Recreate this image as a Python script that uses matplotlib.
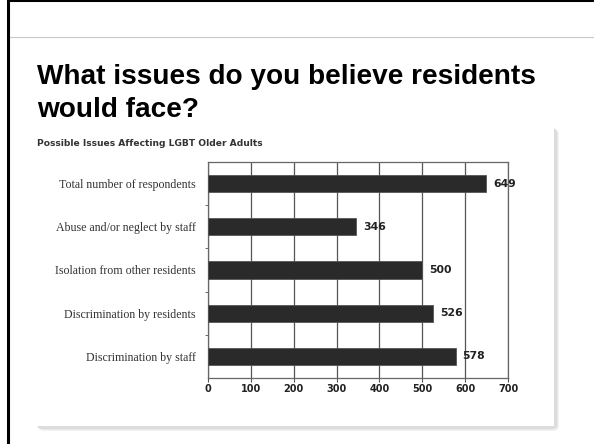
import matplotlib.pyplot as plt
from matplotlib.patches import Rectangle, FancyBboxPatch

# data
categories = [
    "Total number of respondents",
    "Abuse and/or neglect by staff",
    "Isolation from other residents",
    "Discrimination by residents",
    "Discrimination by staff",
]
counts = [649, 346, 500, 526, 578]
x_ticks = [0, 100, 200, 300, 400, 500, 600, 700]

W, H = 594, 444
fig = plt.figure(figsize=(W / 100, H / 100), dpi=100)


def fx(x):
    return x / W


def fy(y):
    return 1 - y / H


# slide frame and header rule
fig.add_artist(Rectangle((fx(8), fy(470)), fx(620), 470 / H, transform=fig.transFigure,
                         fill=False, edgecolor="black", linewidth=2.2, zorder=-1))
fig.add_artist(plt.Line2D([fx(10), 1], [fy(37), fy(37)], transform=fig.transFigure,
                          color="#c8c8c8", linewidth=0.8, zorder=-1))

# chart panel with soft shadow
for i, c in enumerate(["#f4f4f4", "#e8e8e8", "#dcdcdc"]):
    d = 3 - i
    fig.add_artist(FancyBboxPatch((fx(36 + d), fy(428 + d)), fx(520), (428 - 127) / H,
                                  boxstyle="round,pad=0,rounding_size=0.01",
                                  transform=fig.transFigure, facecolor=c,
                                  edgecolor="none", zorder=-1))
fig.add_artist(Rectangle((fx(36), fy(426)), fx(518), (426 - 120) / H,
                         transform=fig.transFigure, facecolor="white", edgecolor="none",
                         zorder=-1))

# titles
fig.text(fx(37), fy(84), "What issues do you believe residents", fontsize=20.2,
         fontweight="bold", family="Liberation Sans", color="black", va="baseline")
fig.text(fx(37), fy(117), "would face?", fontsize=20.2,
         fontweight="bold", family="Liberation Sans", color="black", va="baseline")
fig.text(fx(37), fy(146), "Possible Issues Affecting LGBT Older Adults", fontsize=6.6,
         fontweight="bold", family="DejaVu Sans", color="#333333", va="baseline")

# bar chart
ax = fig.add_axes([fx(208), fy(378), fx(300), 216 / H])
ax.set_zorder(5)
ypos = list(range(len(categories)))
ax.barh(ypos, counts, height=0.4, color="#2a2a2a", edgecolor="#555555",
        linewidth=0.6, zorder=3)
ax.set_xlim(0, 700)
ax.set_ylim(len(categories) - 0.5, -0.5)
ax.set_xticks(x_ticks)
ax.set_xticklabels([str(t) for t in x_ticks], fontsize=7, fontweight="bold",
                   family="DejaVu Sans", color="#222222")
ax.set_yticks(ypos)
ax.set_yticklabels(categories, fontsize=8.6, family="Liberation Serif", color="#333333")
ax.set_yticks([i + 0.5 for i in ypos[:-1]], minor=True)
ax.tick_params(axis="y", which="major", length=0, pad=9)
ax.tick_params(axis="y", which="minor", length=2.5, color="#555555", direction="out")
ax.tick_params(axis="x", length=3, color="#555555", pad=1.5)
ax.xaxis.grid(True, color="#555555", linewidth=0.9, zorder=0)
for s in ax.spines.values():
    s.set_color("#666666")
    s.set_linewidth(0.9)

for y, v in zip(ypos, counts):
    ax.annotate(str(v), (v, y), xytext=(5, 0), textcoords="offset points",
                va="center", ha="left", fontsize=7.8, fontweight="bold",
                family="DejaVu Sans", color="#222222", zorder=4)

fig.savefig("out.png", dpi=100)
